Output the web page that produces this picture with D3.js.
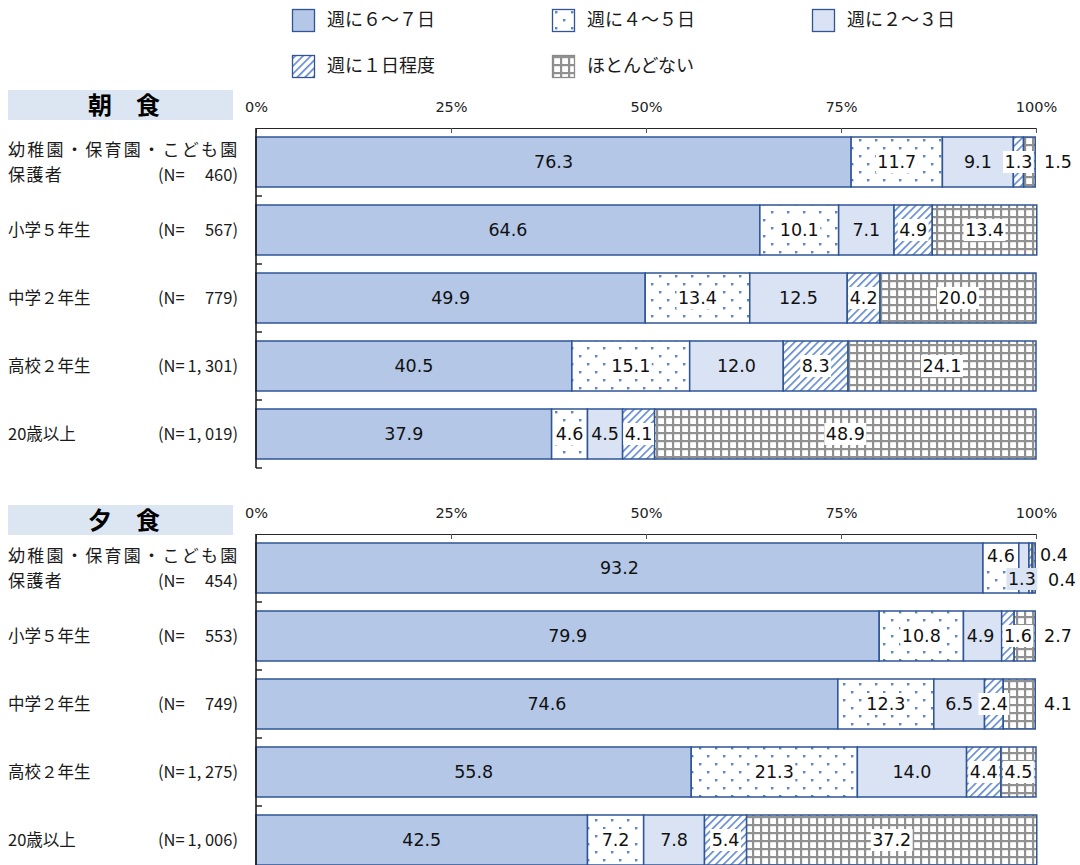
<!DOCTYPE html>
<html>
<head>
<meta charset="utf-8">
<script src="https://cdn.jsdelivr.net/npm/d3@7"></script>
<style>
  body { margin: 0; background: #fff; }
  svg { display: block; }
  text { white-space: pre; }
</style>
</head>
<body>
<svg id="chart" width="1080" height="865"></svg>
<script>
// ---- data ----
const seriesNames = ["週に６〜７日", "週に４〜５日", "週に２〜３日", "週に１日程度", "ほとんどない"];
const groups = ["幼稚園・保育園・こども園\n保護者", "小学５年生", "中学２年生", "高校２年生", "20歳以上"];
const tickValues = [0, 25, 50, 75, 100];

const breakfastN = ["460", "567", "779", "1, 301", "1, 019"];
const breakfast6to7 = [76.3, 64.6, 49.9, 40.5, 37.9];
const breakfast4to5 = [11.7, 10.1, 13.4, 15.1, 4.6];
const breakfast2to3 = [9.1, 7.1, 12.5, 12.0, 4.5];
const breakfast1 = [1.3, 4.9, 4.2, 8.3, 4.1];
const breakfastNone = [1.5, 13.4, 20.0, 24.1, 48.9];

const dinnerN = ["454", "553", "749", "1, 275", "1, 006"];
const dinner6to7 = [93.2, 79.9, 74.6, 55.8, 42.5];
const dinner4to5 = [4.6, 10.8, 12.3, 21.3, 7.2];
const dinner2to3 = [1.3, 4.9, 6.5, 14.0, 7.8];
const dinner1 = [0.4, 1.6, 2.4, 4.4, 5.4];
const dinnerNone = [0.4, 2.7, 4.1, 4.5, 37.2];

// ---- layout & style ----
const panels = [
  { id: "bf", title: "朝　食", counts: breakfastN, headerY: 90, top: 128,
    values: [breakfast6to7, breakfast4to5, breakfast2to3, breakfast1, breakfastNone] },
  { id: "dn", title: "夕　食", counts: dinnerN, headerY: 505, top: 534,
    values: [dinner6to7, dinner4to5, dinner2to3, dinner1, dinnerNone] }
];

const BLUE = "#2f5597";
const fills = ["#b4c7e7", "url(#dots)", "#dae3f3", "url(#hatch)", "url(#grid)"];
const labelBg = ["#b4c7e7", "#ffffff", "#dae3f3", "#ffffff", "#ffffff"];
const JP = "'Noto Sans CJK JP', 'Noto Sans', sans-serif";
const NUM = "'DejaVu Sans', sans-serif";

// thin segments get their labels moved aside
const labelNudges = {
  "bf-0-4": { outside: true },
  "dn-0-1": { dy: -12 },
  "dn-0-2": { dx: -2, dy: 11 },
  "dn-0-3": { outside: true, dx: -4, dy: -13 },
  "dn-0-4": { outside: true, dx: 4, dy: 12 },
  "dn-1-2": { dx: -2 },
  "dn-1-3": { dx: 10 },
  "dn-1-4": { outside: true },
  "dn-2-4": { outside: true }
};

const svg = d3.select("#chart");
const defs = svg.append("defs");

// dotted fill
const dots = defs.append("pattern").attr("id", "dots")
  .attr("patternUnits", "userSpaceOnUse").attr("width", 16).attr("height", 16);
dots.append("rect").attr("width", 16).attr("height", 16).attr("fill", "#fff");
dots.append("rect").attr("x", 3).attr("y", 3).attr("width", 2.4).attr("height", 2.4).attr("fill", "#5b84cc");
dots.append("rect").attr("x", 11).attr("y", 11).attr("width", 2.4).attr("height", 2.4).attr("fill", "#5b84cc");

// diagonal hatch
const hatch = defs.append("pattern").attr("id", "hatch")
  .attr("patternUnits", "userSpaceOnUse").attr("width", 5.5).attr("height", 5.5)
  .attr("patternTransform", "rotate(45)");
hatch.append("rect").attr("width", 5.5).attr("height", 5.5).attr("fill", "#fff");
hatch.append("rect").attr("width", 1.6).attr("height", 5.5).attr("fill", "#5f88d0");

// grid
const grid = defs.append("pattern").attr("id", "grid")
  .attr("patternUnits", "userSpaceOnUse").attr("width", 8).attr("height", 8);
grid.append("rect").attr("width", 8).attr("height", 8).attr("fill", "#fff");
grid.append("rect").attr("width", 2.2).attr("height", 8).attr("fill", "#919191");
grid.append("rect").attr("width", 8).attr("height", 2.2).attr("fill", "#919191");

const x = d3.scaleLinear().domain([0, 100]).range([256, 1036]);

// ---- legend ----
const legendPos = [[292, 9], [552, 9], [812, 9], [292, 55], [552, 55]];
const legend = svg.append("g");
seriesNames.forEach((name, k) => {
  const [lx, ly] = legendPos[k];
  legend.append("rect").attr("x", lx + 0.5).attr("y", ly + 0.5).attr("width", 22).attr("height", 22)
    .attr("fill", fills[k]).attr("stroke", k === 4 ? "#8a8a8a" : BLUE).attr("stroke-width", 1.3);
  legend.append("text").attr("x", lx + 35).attr("y", ly + 11).attr("dy", "0.36em")
    .attr("font-family", JP).attr("font-size", 18).attr("fill", "#1a1a1a").text(name);
});

// ---- panels ----
panels.forEach(p => {
  const g = svg.append("g");
  const rows = groups.map((grp, i) => {
    const r = { group: grp };
    seriesNames.forEach((s, k) => { r[s] = p.values[k][i]; });
    return r;
  });
  const stacked = d3.stack().keys(seriesNames)(rows);
  const y = d3.scaleBand().domain(groups).range([p.top, p.top + 340])
    .paddingInner(0.2647).paddingOuter(0.1324);
  const bw = y.bandwidth();

  // header
  g.append("rect").attr("x", 8).attr("y", p.headerY).attr("width", 225).attr("height", 30).attr("fill", "#dce6f2");
  g.append("text").attr("x", 124).attr("y", p.headerY + 15).attr("dy", "0.36em")
    .attr("text-anchor", "middle").attr("font-family", JP).attr("font-weight", 700)
    .attr("font-size", 24).attr("fill", "#000").text(p.title);

  // group labels
  groups.forEach((grp, i) => {
    const cy = y(grp) + bw / 2;
    const lines = grp.split("\n");
    const t = g.append("g").attr("font-family", JP).attr("fill", "#1a1a1a");
    if (lines.length > 1) {
      t.append("text").attr("x", 8).attr("y", cy - 12).attr("dy", "0.36em")
        .attr("font-size", 17).attr("letter-spacing", 2.3).text(lines[0]);
      t.append("text").attr("x", 8).attr("y", cy + 13).attr("dy", "0.36em")
        .attr("font-size", 17).attr("letter-spacing", 1.4).text(lines[1]);
    } else {
      t.append("text").attr("x", 8).attr("y", cy).attr("dy", "0.36em")
        .attr("font-size", 16.5).text(lines[0]);
    }
    const ny = lines.length > 1 ? cy + 13 : cy;
    t.append("text").attr("x", 158).attr("y", ny).attr("dy", "0.36em").attr("font-size", 16.5).text("(N=");
    t.append("text").attr("x", 238).attr("y", ny).attr("dy", "0.36em").attr("text-anchor", "end")
      .attr("font-size", 16.5).text(p.counts[i] + ")");
  });

  // bars
  stacked.forEach((layer, k) => {
    g.append("g").selectAll("rect").data(layer).join("rect")
      .attr("x", d => x(d[0]))
      .attr("y", d => y(d.data.group))
      .attr("width", d => x(d[1]) - x(d[0]))
      .attr("height", bw)
      .attr("fill", fills[k])
      .attr("stroke", BLUE).attr("stroke-width", 1.5);
  });

  // top axis
  const axisG = g.append("g").attr("transform", `translate(0,${p.top})`)
    .call(d3.axisTop(x).tickValues(tickValues).tickFormat(d => d + "%")
      .tickSizeInner(-5).tickSizeOuter(0).tickPadding(16));
  axisG.select(".domain").attr("stroke", "#262626").attr("stroke-width", 1.2);
  axisG.selectAll(".tick line").attr("stroke", "#555");
  axisG.selectAll(".tick text").attr("font-family", NUM).attr("font-size", 14.5).attr("fill", "#222");

  // left axis with boundary ticks
  g.append("line").attr("x1", 256).attr("x2", 256).attr("y1", p.top).attr("y2", p.top + 340)
    .attr("stroke", "#1a1a1a").attr("stroke-width", 1.6);
  d3.range(1, groups.length + 1).forEach(j => {
    const ty = p.top + y.step() * j;
    g.append("line").attr("x1", 256).attr("x2", 262).attr("y1", ty).attr("y2", ty)
      .attr("stroke", "#1a1a1a").attr("stroke-width", 1.4);
  });

  // value labels
  const labels = g.append("g");
  stacked.forEach((layer, k) => {
    layer.forEach((d, i) => {
      const nudge = labelNudges[`${p.id}-${i}-${k}`] || {};
      let cx = (x(d[0]) + x(d[1])) / 2 + (nudge.dx || 0);
      if (nudge.outside) cx = x(100) + 22 + (nudge.dx || 0);
      const cy = y(d.data.group) + bw / 2 + (nudge.dy || 0);
      const lg = labels.append("g");
      const txt = lg.append("text").attr("x", cx).attr("y", cy).attr("dy", "0.36em")
        .attr("text-anchor", "middle").attr("font-family", NUM).attr("font-size", 17.5)
        .attr("fill", "#111").text(d3.format(".1f")(d[1] - d[0]));
      if (!nudge.outside) {
        const bb = txt.node().getBBox();
        lg.insert("rect", "text").attr("x", bb.x - 1.5).attr("y", cy - 11)
          .attr("width", bb.width + 3).attr("height", 22).attr("fill", labelBg[k]);
      }
    });
  });
});
</script>
</body>
</html>
